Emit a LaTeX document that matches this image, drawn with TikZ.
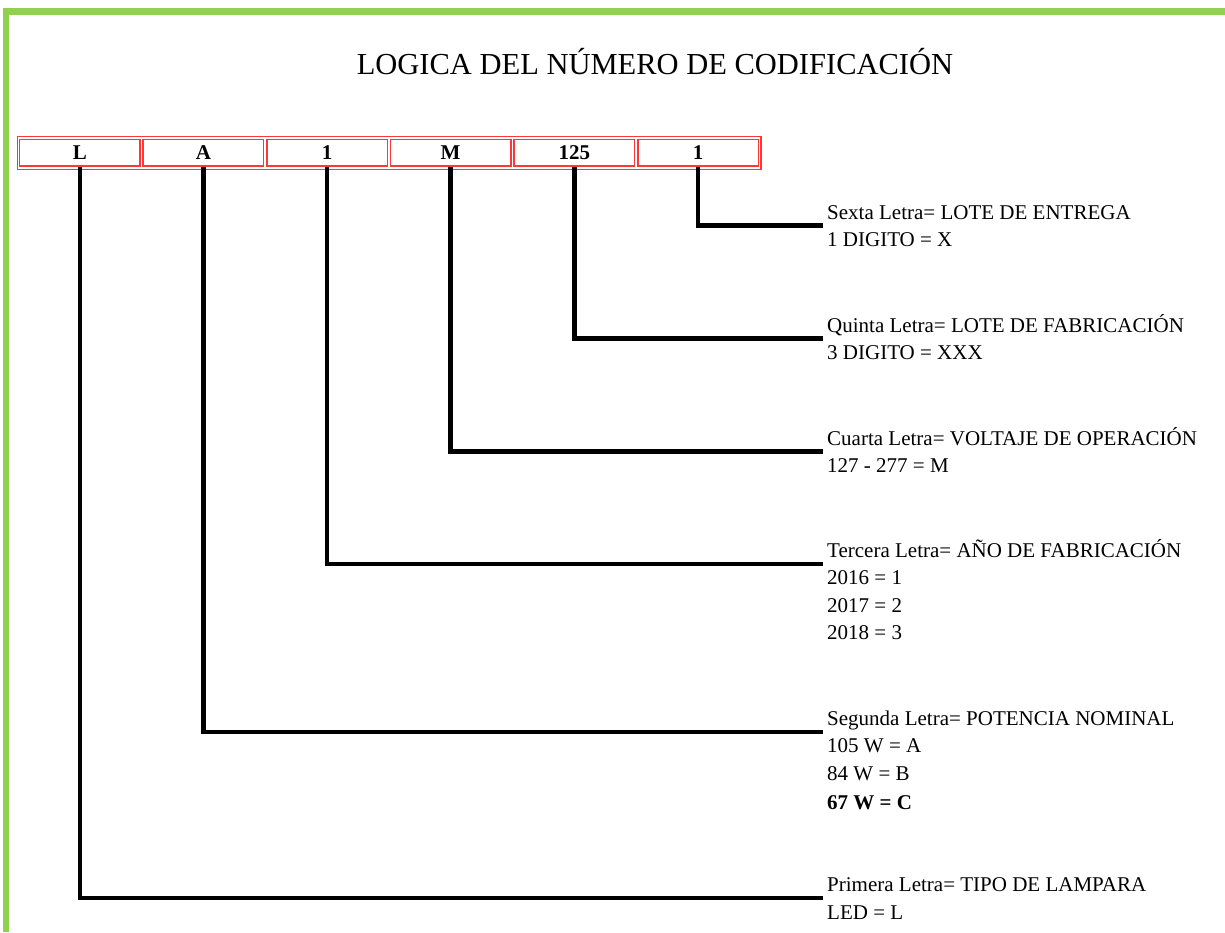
\documentclass[tikz,border=0pt]{standalone}
\usepackage{fontspec}
\setmainfont{Liberation Serif}
\definecolor{frameGreen}{HTML}{92D050}
\definecolor{boxRed}{RGB}{255,55,55}
\tikzset{
  cell/.style={draw=boxRed, line width=1.5pt, minimum width=120.5pt, minimum height=26.5pt, inner sep=0pt,
    font=\fontsize{21}{24}\selectfont\bfseries},
  conn/.style={line width=4.6pt, black},
  lbl/.style={anchor=base west, inner sep=0pt, font=\fontsize{21}{24}\selectfont},
  ttl/.style={anchor=base, inner sep=0pt, font=\fontsize{30.5}{34}\selectfont}
}
\begin{document}
\begin{tikzpicture}[x=1pt,y=-1pt]
\useasboundingbox (0,0) rectangle (1225,932);
\fill[white] (0,0) rectangle (1225,932);
% green frame
\fill[frameGreen] (3,8) rectangle (1225,15);
\fill[frameGreen] (3,8) rectangle (9,932);
% title
\node[ttl] (title) at (655,74.5) {LOGICA DEL NÚMERO DE CODIFICACIÓN};
% code cells
\draw[boxRed, line width=1.5pt] (17.4,136.4) rectangle (761.0,169.3);
\node[cell] (c1) at (79.8,152.9) {L};
\node[cell] (c2) at (203.4,152.9) {A};
\node[cell] (c3) at (327.0,152.9) {1};
\node[cell] (c4) at (450.6,152.9) {M};
\node[cell] (c5) at (574.3,152.9) {125};
\node[cell] (c6) at (698.0,152.9) {1};
% connector ends
\coordinate (e6) at (823,225.7);
\coordinate (e5) at (823,338.7);
\coordinate (e4) at (823,451.7);
\coordinate (e3) at (823,564.0);
\coordinate (e2) at (823,732.0);
\coordinate (e1) at (823,898.0);
\draw[conn] (c6.south) |- (e6);
\draw[conn] (c5.south) |- (e5);
\draw[conn] (c4.south) |- (e4);
\draw[conn] (c3.south) |- (e3);
\draw[conn] (c2.south) |- (e2);
\draw[conn] (c1.south) |- (e1);
% labels
\node[lbl] (l6a) at (827,219.0) {Sexta Letra= LOTE DE ENTREGA};
\node[lbl] (l6b) at (827,246.5) {1 DIGITO = X};
\node[lbl] (l5a) at (827,332.0) {Quinta Letra= LOTE DE FABRICACIÓN};
\node[lbl] (l5b) at (827,359.5) {3 DIGITO = XXX};
\node[lbl] (l4a) at (827,445.0) {Cuarta Letra= VOLTAJE DE OPERACIÓN};
\node[lbl] (l4b) at (827,472.5) {127 - 277 = M};
\node[lbl] (l3a) at (827,557.0) {Tercera Letra= AÑO DE FABRICACIÓN};
\node[lbl] (l3b) at (827,584.5) {2016 = 1};
\node[lbl] (l3c) at (827,612.0) {2017 = 2};
\node[lbl] (l3d) at (827,639.5) {2018 = 3};
\node[lbl] (l2a) at (827,725.3) {Segunda Letra= POTENCIA NOMINAL};
\node[lbl] (l2b) at (827,752.8) {105 W = A};
\node[lbl] (l2c) at (827,780.3) {84 W = B};
\node[lbl, font=\fontsize{21}{24}\selectfont\bfseries] (l2d) at (827,809.3) {67 W = C};
\node[lbl] (l1a) at (827,891.5) {Primera Letra= TIPO DE LAMPARA};
\node[lbl] (l1b) at (827,919.0) {LED = L};
\end{tikzpicture}
\end{document}
